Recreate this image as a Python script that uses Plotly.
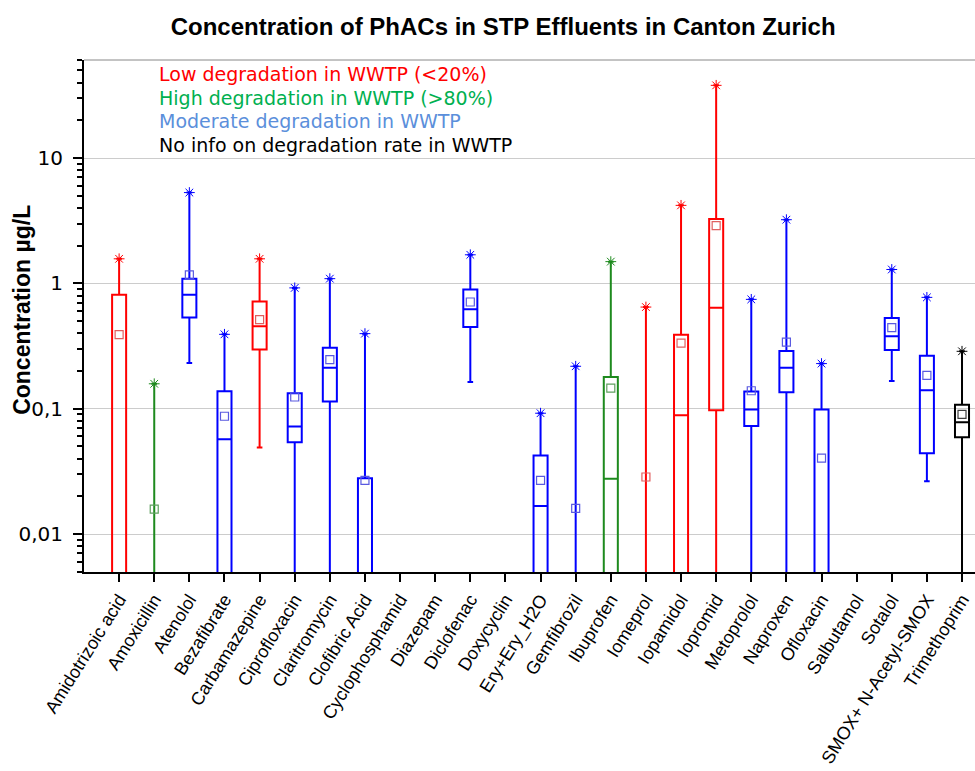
import plotly.graph_objects as go

categories = ["Amidotrizoic acid", "Amoxicillin", "Atenolol", "Bezafibrate", "Carbamazepine",
              "Ciprofloxacin", "Claritromycin", "Clofibric Acid", "Cyclophosphamid", "Diazepam",
              "Diclofenac", "Doxycyclin", "Ery+Ery_H2O", "Gemfibrozil", "Ibuprofen", "Iomeprol",
              "Iopamidol", "Iopromid", "Metoprolol", "Naproxen", "Ofloxacin", "Salbutamol",
              "Sotalol", "SMOX+ N-Acetyl-SMOX", "Trimethoprim"]
group = ["low", "high", "mod", "mod", "low",
         "mod", "mod", "mod", None, None,
         "mod", None, "mod", "mod", "high", "low",
         "low", "low", "mod", "mod", "mod", None,
         "mod", "mod", "none"]
# box statistics (values below 0.005 are off-axis estimates)
lower  = [0.001, 0.001, 0.231, 0.001, 0.049, 0.001, 0.001, 0.001, None, None,
          0.163, None, 0.001, 0.001, 0.001, 0.001, 0.001, 0.001, 0.001, 0.001, 0.001, None,
          0.166, 0.0264, 0.001]
q1     = [0.002, 0.002, 0.535, 0.002, 0.296, 0.054, 0.114, 0.002, None, None,
          0.449, None, 0.002, 0.002, 0.002, 0.002, 0.002, 0.097, 0.0726, 0.135, 0.002, None,
          0.294, 0.0442, 0.0593]
median = [0.003, 0.002, 0.81, 0.057, 0.454, 0.072, 0.212, 0.003, None, None,
          0.62, None, 0.0167, 0.002, 0.0276, 0.002, 0.0885, 0.64, 0.0987, 0.212, 0.003, None,
          0.378, 0.14, 0.078]
q3     = [0.81, 0.002, 1.09, 0.138, 0.718, 0.133, 0.307, 0.0279, None, None,
          0.895, None, 0.0424, 0.002, 0.179, 0.002, 0.389, 3.26, 0.137, 0.288, 0.0987, None,
          0.529, 0.265, 0.1076]
upper  = [1.57, 0.158, 5.3, 0.392, 1.57, 0.92, 1.09, 0.397, None, None,
          1.69, None, 0.092, 0.218, 1.49, 0.647, 4.19, 38.0, 0.745, 3.22, 0.229, None,
          1.29, 0.773, 0.287]
mean   = [0.39, 0.0158, 1.17, 0.087, 0.513, 0.124, 0.246, 0.0268, None, None,
          0.71, None, 0.0268, 0.016, 0.146, 0.0285, 0.334, 2.89, 0.139, 0.34, 0.0403, None,
          0.443, 0.1845, 0.09]

legend_texts = ["Low degradation in WWTP (<20%)", "High degradation in WWTP (>80%)",
                "Moderate degradation in WWTP", "No info on degradation rate in WWTP"]
y_tickvals = [0.01, 0.1, 1, 10]
y_ticktext = ["0,01", "0,1", "1", "10"]

line_colors = {"low": "#FF0000", "high": "#1E8A1E", "mod": "#0000FF", "none": "#000000"}
mean_colors = {"low": "#E06060", "high": "#5FA05F", "mod": "#5A5AE0", "none": "#404040"}
legend_colors = ["#FF0000", "#00B050", "#5B8FDB", "#000000"]

fig = go.Figure()
for g in ["low", "high", "mod", "none"]:
    idx = [i for i, gg in enumerate(group) if gg == g]
    xs = [categories[i] for i in idx]
    fig.add_trace(go.Box(
        x=xs, q1=[q1[i] for i in idx], median=[median[i] for i in idx],
        q3=[q3[i] for i in idx], lowerfence=[lower[i] for i in idx],
        upperfence=[upper[i] for i in idx],
        width=0.4, whiskerwidth=0.4, boxpoints=False,
        line=dict(color=line_colors[g], width=2),
        fillcolor="rgba(0,0,0,0)", showlegend=False, hoverinfo="skip"))
    fig.add_trace(go.Scatter(
        x=xs, y=[mean[i] for i in idx], mode="markers",
        marker=dict(symbol="square-open", size=8, color=mean_colors[g], line=dict(width=1.2)),
        showlegend=False, hoverinfo="skip"))
    fig.add_trace(go.Scatter(
        x=xs, y=[upper[i] for i in idx], mode="markers",
        marker=dict(symbol="asterisk-open", size=9, color=line_colors[g], line=dict(width=1)),
        showlegend=False, hoverinfo="skip"))

minor_vals = [m * 10 ** e for e in range(-3, 2) for m in range(2, 10)]

for k, (t, c) in enumerate(zip(legend_texts, legend_colors)):
    fig.add_annotation(x=0.082, y=0.972 - k * 0.046, xref="paper", yref="paper",
                       text=t, showarrow=False, xanchor="left", yanchor="middle",
                       font=dict(family="DejaVu Sans", size=19, color=c))

# y-axis title as a rotated annotation
fig.add_annotation(x=-0.0696, y=0.512, xref="paper", yref="paper",
                   text="<b>Concentration µg/L</b>", textangle=-90, showarrow=False,
                   xanchor="center", yanchor="middle",
                   font=dict(family="Liberation Sans", size=23, color="black"))

fig.add_shape(type="line", xref="paper", yref="paper", x0=0, x1=1, y0=1, y1=1,
              line=dict(color="#888888", width=1))

fig.update_layout(
    width=975, height=771,
    margin=dict(l=84, r=0, t=60, b=199),
    paper_bgcolor="white", plot_bgcolor="white",
    boxmode="overlay",
    title=dict(text="<b>Concentration of PhACs in STP Effluents in Canton Zurich</b>",
               x=0.516, xanchor="center", y=1 - 27 / 771, yanchor="middle",
               font=dict(family="Liberation Sans", size=24, color="black")),
    font=dict(family="Liberation Sans", color="black"),
)
fig.update_xaxes(
    type="category", categoryorder="array", categoryarray=categories,
    range=[-1, 24.37], tickangle=-58, tickfont=dict(family="Liberation Sans", size=18),
    showline=True, linecolor="black", linewidth=2, ticks="outside", ticklen=8,
    tickwidth=2, tickcolor="black", showgrid=False, zeroline=False, automargin=False,
)
fig.update_yaxes(
    type="log", range=[-2.303, 1.782],
    tickvals=y_tickvals, ticktext=y_ticktext,
    tickfont=dict(family="DejaVu Sans", size=20), ticklabelstandoff=6,
    showline=True, linecolor="black", linewidth=2, ticks="outside", ticklen=9,
    tickwidth=2, tickcolor="black", showgrid=True, gridcolor="#CCCCCC", gridwidth=1,
    zeroline=False, automargin=False,
    minor=dict(tickvals=minor_vals, ticks="outside", ticklen=5, tickwidth=1.5,
               tickcolor="black", showgrid=False),
)

fig.write_html("out.html", config={"displayModeBar": False},
               post_script="document.body.style.margin='0';")
